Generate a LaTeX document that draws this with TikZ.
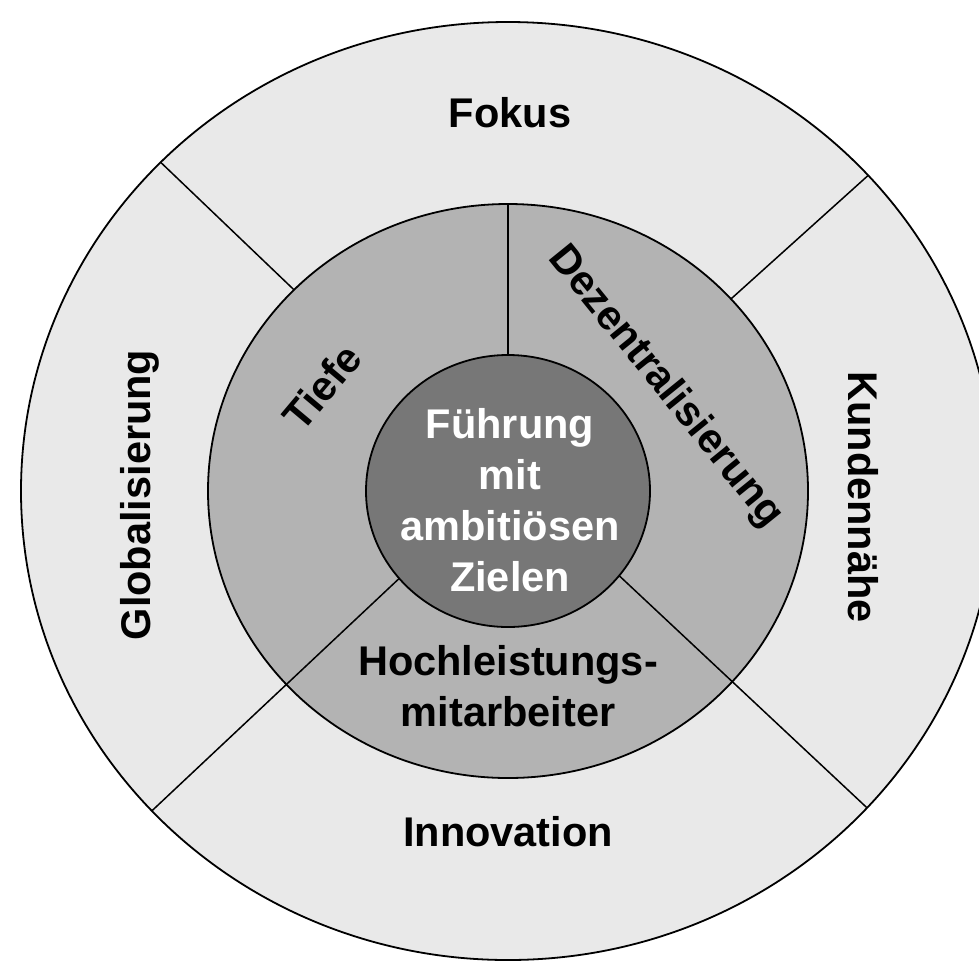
\documentclass[tikz,border=0pt]{standalone}
\usepackage{fontspec}
\setmainfont{Liberation Sans}
\usetikzlibrary{calc}
\definecolor{ringout}{HTML}{E9E9E9}
\definecolor{ringmid}{HTML}{B3B3B3}
\definecolor{core}{HTML}{777777}
\begin{document}
\begin{tikzpicture}[x=1pt,y=-1pt,
  outline/.style={draw=black,line width=1.8pt},
  divider/.style={draw=black,line width=1.5pt},
  lbl/.style={font=\fontsize{41.5}{51}\selectfont\bfseries,text=black,inner sep=0pt,align=center},
  corelbl/.style={lbl,text=white}]
\useasboundingbox (0,0) rectangle (979,962);
\clip (0,0) rectangle (979,962);
% y points down, so polar angles run clockwise on the page
\coordinate (c) at (508,491);
% outer ring
\path[outline,fill=ringout] (c) ellipse [x radius=487, y radius=469];
% middle ring
\path[outline,fill=ringmid] (c) ellipse [x radius=300, y radius=287];
% end points of the dividers
\coordinate (ulA) at ($(c)+(224.5:300 and 287)$);
\coordinate (ulB) at ($(c)+(224.5:487 and 469)$);
\coordinate (urA) at ($(c)+(318:300 and 287)$);
\coordinate (urB) at ($(c)+(317.7:487 and 469)$);
\coordinate (llA) at ($(c)+(140:142 and 136)$);
\coordinate (llB) at ($(c)+(137:487 and 469)$);
\coordinate (lrA) at ($(c)+(38.5:142 and 136)$);
\coordinate (lrB) at ($(c)+(42.5:487 and 469)$);
\coordinate (tA) at ($(c)+(270:142 and 136)$);
\coordinate (tB) at ($(c)+(270:300 and 287)$);
\draw[divider] (ulA) -- (ulB);
\draw[divider] (urA) -- (urB);
\draw[divider] (llA) -- (llB);
\draw[divider] (lrA) -- (lrB);
\draw[divider] (tA) -- (tB);
% core
\path[outline,fill=core] (c) ellipse [x radius=142, y radius=136];
% labels
\node[lbl,anchor=base] (fokus) at (510,127) {Fokus};
\node[lbl,anchor=base] (innov) at (508,846) {Innovation};
\node[lbl,anchor=base,rotate=90] (glob) at (150,495) {Globalisierung};
\node[lbl,anchor=base,rotate=-90] (kund) at (848,497) {Kundennähe};
\node[lbl,rotate=50] (tiefe) at (322,387) {Tiefe};
\node[lbl,anchor=base,rotate=-51] (dez) at (657,394) {Dezentralisierung};
\node[lbl] (hoch) at (508,686) {Hochleistungs-\\mitarbeiter};
\node[corelbl] (fuehr) at (510,500) {Führung\\mit\\ambitiösen\\Zielen};
\end{tikzpicture}
\end{document}
